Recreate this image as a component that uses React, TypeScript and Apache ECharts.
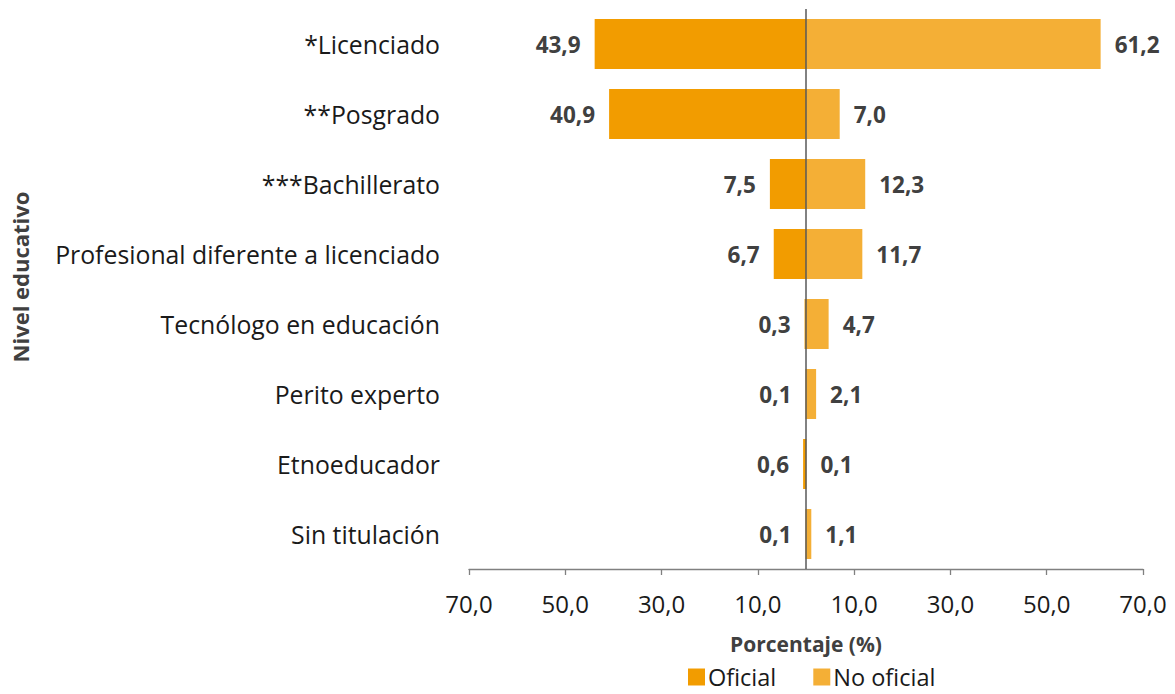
import React, { useEffect, useRef } from "react";
import * as echarts from "echarts";

const categories = [
  "*Licenciado",
  "**Posgrado",
  "***Bachillerato",
  "Profesional diferente a licenciado",
  "Tecnólogo en educación",
  "Perito experto",
  "Etnoeducador",
  "Sin titulación",
];
const oficial = [43.9, 40.9, 7.5, 6.7, 0.3, 0.1, 0.6, 0.1];
const noOficial = [61.2, 7.0, 12.3, 11.7, 4.7, 2.1, 0.1, 1.1];
const tickValues = [-70, -50, -30, -10, 10, 30, 50, 70];

const FONT = "'Open Sans', 'Noto Sans', sans-serif";
const fmt = (v: number) => Math.abs(v).toFixed(1).replace(".", ",");

export default function App() {
  const ref = useRef<HTMLDivElement>(null);
  useEffect(() => {
    document.body.style.margin = "0";
    if (!ref.current) return;
    const chart = echarts.init(ref.current, undefined, { renderer: "svg" });
    const labelStyle = {
      show: true,
      fontFamily: FONT,
      fontSize: 22.5,
      fontWeight: "bold" as const,
      color: "#404040",
      distance: 14,
    };
    chart.setOption({
      animation: false,
      textStyle: { fontFamily: FONT },
      grid: { left: 469, right: 32, top: 9, bottom: 125, containLabel: false },
      legend: {
        top: 665,
        left: 688,
        padding: 0,
        itemWidth: 17,
        itemHeight: 17,
        itemGap: 37,
        icon: "rect",
        textStyle: {
          fontFamily: FONT,
          fontSize: 23.5,
          lineHeight: 24,
          color: "#1a1a1a",
          padding: [0, 0, 0, -2],
        },
        data: ["Oficial", "No oficial"],
      },
      xAxis: {
        type: "value",
        min: -70,
        max: 70,
        splitLine: { show: false },
        axisLine: { show: true, onZero: false, lineStyle: { color: "#808080", width: 1.3 } },
        axisTick: { show: true, length: 6, customValues: tickValues, lineStyle: { color: "#808080", width: 1.3 } },
        axisLabel: {
          customValues: tickValues,
          formatter: (v: number) => fmt(v),
          fontFamily: FONT,
          fontSize: 24,
          color: "#1a1a1a",
          margin: 22,
        },
        name: "Porcentaje (%)",
        nameLocation: "middle",
        nameGap: 64,
        nameTextStyle: { fontFamily: FONT, fontSize: 21, fontWeight: "bold", color: "#404040" },
      },
      yAxis: {
        type: "category",
        data: categories,
        inverse: true,
        axisLine: { show: false, onZero: false },
        axisTick: { show: false },
        axisLabel: { fontFamily: FONT, fontSize: 24.8, color: "#1a1a1a", margin: 29 },
      },
      graphic: [
        {
          type: "text",
          x: 20,
          y: 277,
          rotation: Math.PI / 2,
          style: {
            text: "Nivel educativo",
            fontFamily: FONT,
            fontSize: 22,
            fontWeight: "bold",
            fill: "#404040",
            textAlign: "center",
            textVerticalAlign: "middle",
          },
        },
      ],
      series: [
        {
          name: "Oficial",
          type: "bar",
          data: oficial.map((v) => -v),
          barWidth: 50,
          barGap: "-100%",
          itemStyle: { color: "#F29C00" },
          label: { ...labelStyle, position: "left", formatter: (p: any) => fmt(p.value) },
        },
        {
          name: "No oficial",
          type: "bar",
          data: noOficial,
          barWidth: 50,
          barGap: "-100%",
          itemStyle: { color: "#F4AF36" },
          label: { ...labelStyle, position: "right", formatter: (p: any) => fmt(p.value) },
          markLine: {
            silent: true,
            symbol: "none",
            label: { show: false },
            lineStyle: { color: "#595959", width: 1.5, type: "solid" },
            data: [{ xAxis: 0 }],
          },
        },
      ],
    });
    return () => chart.dispose();
  }, []);
  return <div ref={ref} style={{ width: 1175, height: 694 }} />;
}
